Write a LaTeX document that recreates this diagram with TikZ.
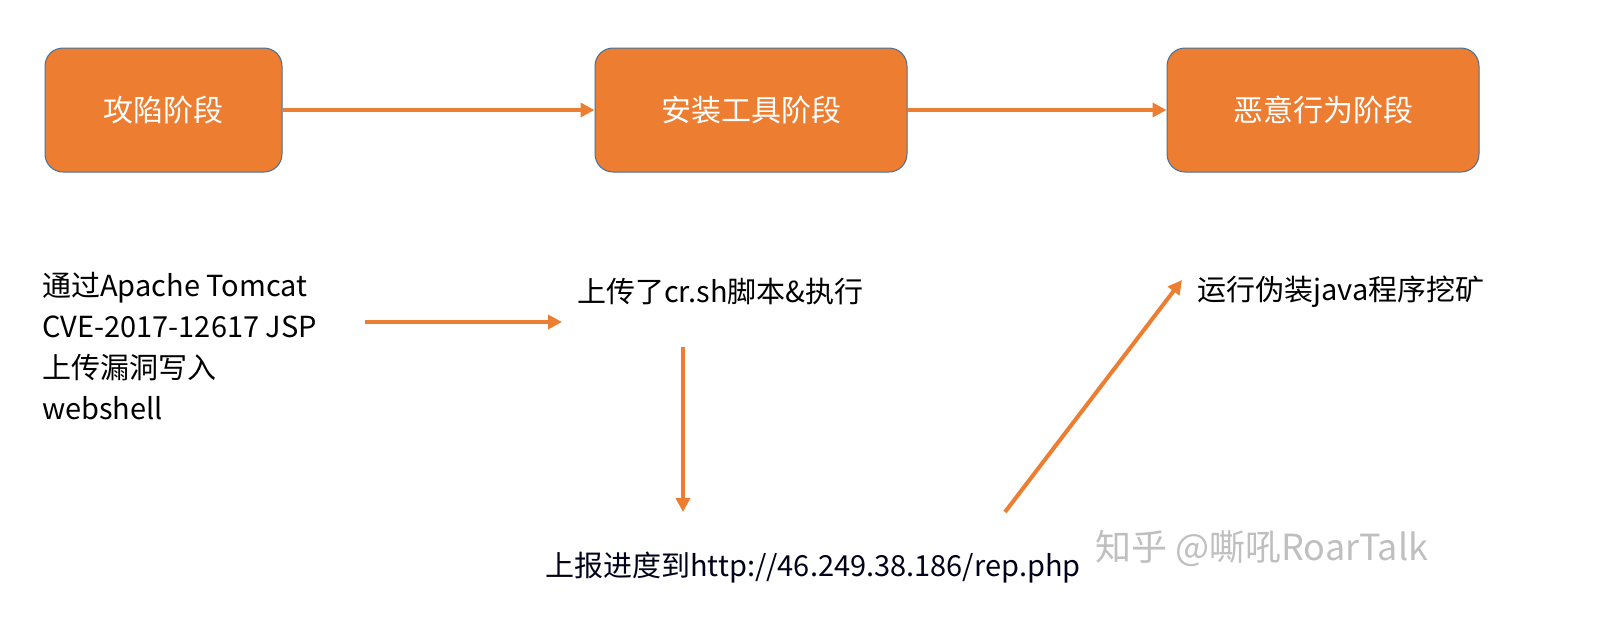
\documentclass[tikz,border=0pt]{standalone}
\usepackage{fontspec}
\setmainfont{Noto Sans CJK SC}
\usetikzlibrary{arrows.meta}
\definecolor{org}{HTML}{ED7D31}
\definecolor{bord}{HTML}{41719C}
\tikzset{
 stage/.style={draw=bord,line width=1pt,fill=org,rounded corners=18pt,minimum width=#1,minimum height=124pt,text=white,font=\fontsize{30}{36}\selectfont},
 flow/.style={draw=org,line width=4pt,-{Triangle[length=14pt,width=14pt]}},
 lbl/.style={font=\fontsize{29}{41}\selectfont,anchor=west,align=left,inner sep=0pt}
}
\begin{document}
\begin{tikzpicture}[x=1pt,y=-1pt]
\useasboundingbox (0,0) rectangle (1617,633);
\node[stage=237pt] (s1) at (163.5,110) {攻陷阶段};
\node[stage=312pt] (s2) at (751,110) {安装工具阶段};
\node[stage=312pt] (s3) at (1323,110) {恶意行为阶段};
\draw[flow] (s1) -- (s2);
\draw[flow] (s2) -- (s3);
\node[lbl,anchor=north west] (t1) at (42,272) {通过Apache Tomcat\\CVE-2017-12617 JSP\\上传漏洞写入\\webshell};
\node[lbl] (t2) at (577,292) {上传了cr.sh脚本\&执行};
\node[lbl,text=black!75!blue!40!black] (t3) at (545,568) {上报进度到http://46.249.38.186/rep.php};
\node[lbl] (t4) at (1197,292) {运行伪装java程序挖矿};
\coordinate (a1) at (365,322); \coordinate (b1) at (562,322);
\draw[flow] (a1) -- (b1);
\coordinate (a2) at (683,347); \coordinate (b2) at (683,512);
\draw[flow] (a2) -- (b2);
\coordinate (a3) at (1005,512); \coordinate (b3) at (1182,280);
\draw[flow] (a3) -- (b3);
\node[lbl,text=black!25,font=\fontsize{36}{40}\selectfont] (wm) at (1095,548) {知乎 @嘶吼RoarTalk};
\end{tikzpicture}
\end{document}
